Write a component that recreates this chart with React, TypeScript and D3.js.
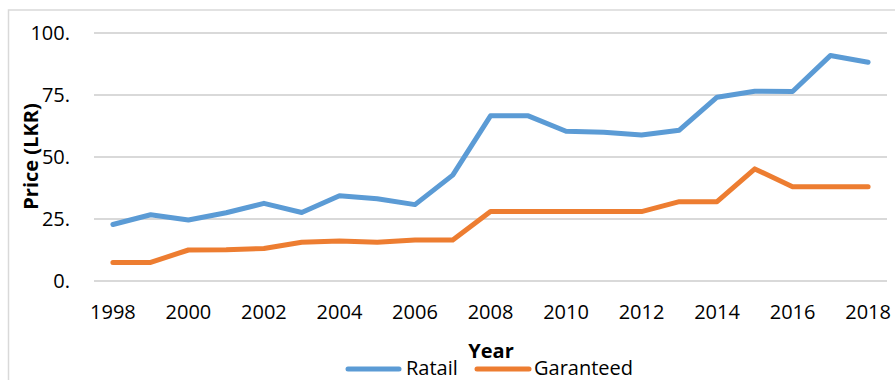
import React from "react";
import * as d3 from "d3";

const years = [
  "1998", "1999", "2000", "2001", "2002", "2003", "2004", "2005", "2006", "2007", "2008",
  "2009", "2010", "2011", "2012", "2013", "2014", "2015", "2016", "2017", "2018",
];
const retail = [
  22.8, 26.7, 24.6, 27.5, 31.3, 27.6, 34.4, 33.2, 30.8, 42.7, 66.6,
  66.6, 60.4, 60.0, 58.9, 60.8, 74.1, 76.5, 76.4, 90.9, 88.2,
];
const guaranteed = [
  7.5, 7.5, 12.5, 12.6, 13.1, 15.6, 16.1, 15.6, 16.5, 16.5, 28.0,
  28.0, 28.0, 28.0, 28.0, 32.0, 32.0, 45.2, 38.0, 38.0, 38.0,
];
const yTicks = [0, 25, 50, 75, 100];
const yTickLabels = ["0.", "25.", "50.", "75.", "100."];
const seriesNames = ["Ratail", "Garanteed"];
const seriesColors = ["#5B9BD5", "#ED7D31"];
const xTickLabels = years.filter((_, i) => i % 2 === 0);

const W = 895;
const H = 380;
const FONT = "'Open Sans', 'Liberation Sans', sans-serif";

export default function App() {
  const x = d3.scalePoint<string>().domain(years).range([112.9, 868.1]);
  const y = d3.scaleLinear().domain([0, 100]).range([281, 33]);
  const line = d3
    .line<number>()
    .x((_, i) => x(years[i]) as number)
    .y((d) => y(d));
  const series = [retail, guaranteed];

  return (
    <svg
      width={W}
      height={H}
      style={{ position: "absolute", left: 0, top: 0, background: "#fff" }}
      fontFamily={FONT}
    >
      <rect x={8.5} y={10} width={W} height={H} fill="#fff" stroke="#D9D9D9" strokeWidth={1.5} />

      {yTicks.map((t, i) => (
        <g key={t}>
          <line x1={94} x2={887} y1={y(t)} y2={y(t)} stroke="#D9D9D9" strokeWidth={1.8} />
          <text x={70} y={y(t)} dy="0.36em" textAnchor="end" fontSize={20} fill="#000">
            {yTickLabels[i]}
          </text>
        </g>
      ))}

      {xTickLabels.map((yr) => (
        <text key={yr} x={x(yr)} y={319} textAnchor="middle" fontSize={20} fill="#000">
          {yr}
        </text>
      ))}

      {series.map((s, i) => (
        <path
          key={seriesNames[i]}
          d={line(s) ?? ""}
          fill="none"
          stroke={seriesColors[i]}
          strokeWidth={5}
          strokeLinejoin="round"
          strokeLinecap="round"
        />
      ))}

      <text
        transform="translate(38,156.5) rotate(-90)"
        textAnchor="middle"
        fontSize={20}
        fontWeight="bold"
        fill="#000"
      >
        Price (LKR)
      </text>

      <text x={491} y={358} textAnchor="middle" fontSize={20} fontWeight="bold" fill="#000">
        Year
      </text>

      <g>
        <line x1={348} x2={399} y1={369} y2={369} stroke={seriesColors[0]} strokeWidth={5} strokeLinecap="round" />
        <text x={406} y={374.5} fontSize={20} fill="#000">
          {seriesNames[0]}
        </text>
        <line x1={477} x2={529} y1={369} y2={369} stroke={seriesColors[1]} strokeWidth={5} strokeLinecap="round" />
        <text x={534} y={374.5} fontSize={20} fill="#000">
          {seriesNames[1]}
        </text>
      </g>
    </svg>
  );
}
